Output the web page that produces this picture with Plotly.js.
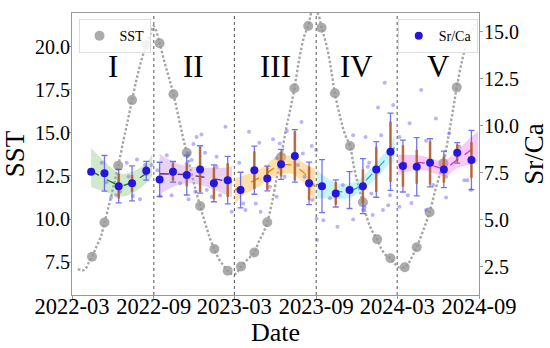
<!DOCTYPE html>
<html><head><meta charset="utf-8">
<script src="https://cdn.plot.ly/plotly-3.0.1.min.js"></script>
<style>body{margin:0;background:#fff}#chart{width:550px;height:348px}</style>
</head><body><div id="chart"></div>
<script>
// ---- SST (left axis) ----
const sstLineDates = ['2022-03-14','2022-03-29','2022-04-08','2022-04-15','2022-04-25','2022-05-05','2022-05-13','2022-05-25','2022-06-05','2022-06-13','2022-06-25','2022-07-05','2022-07-14','2022-07-25','2022-08-05','2022-08-15','2022-08-25','2022-08-31','2022-09-05','2022-09-14','2022-09-25','2022-10-05','2022-10-15','2022-10-25','2022-11-05','2022-11-14','2022-11-25','2022-12-05','2022-12-14','2022-12-25','2023-01-05','2023-01-15','2023-01-25','2023-02-05','2023-02-14','2023-02-25','2023-03-05','2023-03-16','2023-03-28','2023-04-05','2023-04-15','2023-04-25','2023-05-05','2023-05-14','2023-05-25','2023-06-05','2023-06-14','2023-06-25','2023-07-05','2023-07-14','2023-07-25','2023-08-05','2023-08-14','2023-08-25','2023-09-05','2023-09-13','2023-09-25','2023-10-05','2023-10-13','2023-10-25','2023-11-05','2023-11-16','2023-11-25','2023-12-05','2023-12-15','2023-12-25','2024-01-05','2024-01-16','2024-01-25','2024-02-05','2024-02-15','2024-02-25','2024-03-05','2024-03-18','2024-03-28','2024-04-05','2024-04-14','2024-04-25','2024-05-05','2024-05-13','2024-05-25','2024-06-05','2024-06-13','2024-06-25','2024-07-05','2024-07-13','2024-07-25','2024-08-05','2024-08-15','2024-08-25'];
const sstLineVals = [7.1,7.05,7.5,7.82,8.4,9.0,9.8,11.0,12.2,13.1,14.6,15.8,16.9,18.2,19.3,20.1,20.8,21.2,21.0,20.2,19.1,18.2,17.24,16.1,14.8,13.85,12.6,11.6,10.76,9.8,8.9,8.27,7.7,7.3,7.01,6.8,6.85,7.25,7.6,7.8,8.06,8.7,9.2,9.82,11.0,12.5,13.6,15.2,16.4,17.59,19.3,20.6,21.2,22.2,21.9,21.1,20.0,18.6,17.3,15.9,14.9,14.24,13.0,11.9,10.98,10.0,9.3,8.83,8.3,7.9,7.73,7.4,7.2,7.21,7.5,7.9,8.37,9.1,9.8,10.4,11.6,12.6,13.24,14.9,16.4,17.64,19.2,20.3,20.9,21.3];
const sstMonthDates = ['2022-04-15','2022-05-13','2022-06-13','2022-07-14','2022-08-15','2022-09-14','2022-10-15','2022-11-14','2022-12-14','2023-01-15','2023-02-14','2023-03-16','2023-04-15','2023-05-14','2023-06-14','2023-07-14','2023-08-14','2023-09-13','2023-10-13','2023-11-16','2023-12-15','2024-01-16','2024-02-15','2024-03-18','2024-04-14','2024-05-13','2024-06-13','2024-07-13'];
const sstMonthVals = [7.82,9.8,13.1,16.9,20.1,20.2,17.24,13.85,10.76,8.27,7.01,7.25,8.06,9.82,13.6,17.59,21.2,21.1,17.3,14.24,10.98,8.83,7.73,7.21,8.37,10.4,13.24,17.64];

// ---- Sr/Ca (right axis) ----
const srDates = ['2022-04-13','2022-05-13','2022-06-14','2022-07-14','2022-08-15',
 '2022-09-14','2022-10-14','2022-11-14','2022-12-14','2023-01-14','2023-02-14',
 '2023-03-15','2023-04-15','2023-05-14','2023-06-14','2023-07-15','2023-08-16',
 '2023-09-14','2023-10-15','2023-11-15','2023-12-15','2024-01-14','2024-02-15',
 '2024-03-14','2024-04-14','2024-05-14','2024-06-14','2024-07-14','2024-08-15'];
const srMean = [7.55,7.47,6.79,6.94,7.61, 7.15,7.55,7.38,7.68,6.94,7.11, 6.58,7.64,7.2,7.95,8.4,6.94, 6.79,6.4,6.58,6.79,7.68,8.62, 7.86,7.82,8.03,7.68,8.56,8.18];
const srStd  = [0,0.95,0.89,0.93,0.5, 0.91,0.55,1.06,1.26,0.98,1.26, 0.95,1.28,0.66,0.8,1.4,1.13, 1.41,0.72,0.98,1.46,1.48,2.05, 1.38,1.55,1.28,0.97,0.55,1.58];
const srErr2 = [0,0,0.66,0.45,0.27, 0,0.45,0.6,1.2,0.85,0.9, 0,1.0,0.6,0.65,1.3,0.9, 0,0.6,0,0.9,1.2,1.6, 1.1,0.9,1.15,0.7,0.45,0.95];

const rawDates = ['2022-05-07','2022-05-17','2022-05-28','2022-06-08','2022-06-17','2022-07-02','2022-07-06','2022-07-16','2022-07-25','2022-08-01','2022-08-12','2022-08-27',
 '2022-09-09','2022-09-15','2022-09-30','2022-10-11','2022-10-30','2022-11-14','2022-11-18','2022-11-18','2022-11-25','2022-11-29','2022-12-03','2022-12-06','2022-12-17','2022-12-25','2022-12-29','2023-01-09','2023-01-20','2023-01-20','2023-01-28','2023-02-09','2023-02-23',
 '2023-03-12','2023-03-21','2023-03-26','2023-04-03','2023-04-18','2023-04-26','2023-04-29','2023-05-20','2023-05-27','2023-06-04','2023-06-04','2023-06-11','2023-06-22','2023-06-27','2023-07-22','2023-07-30','2023-08-02','2023-08-06','2023-08-22','2023-08-23','2023-09-01',
 '2023-09-02','2023-09-03','2023-09-17','2023-10-02','2023-10-19','2023-10-31','2023-11-23','2023-11-23','2023-12-15','2023-12-19','2023-12-21','2023-12-26','2023-12-29','2024-01-03','2024-01-06','2024-01-18','2024-01-25','2024-01-29','2024-02-02','2024-02-10','2024-02-14','2024-02-21',
 '2024-03-06','2024-03-06','2024-03-25','2024-03-29','2024-04-02','2024-04-24','2024-05-05','2024-05-05','2024-05-21','2024-05-27','2024-06-19','2024-06-19','2024-06-26','2024-07-19','2024-07-30','2024-08-06','2024-08-14'];
const rawVals = [8.03,7.0,6.19,6.31,6.49,8.03,7.3,6.26,8.21,6.09,7.91,7.91,
 7.64,6.26,8.44,6.31,6.94,8.0,6.09,8.53,8.18,9.03,6.49,9.41,9.54,8.56,6.58,6.22,8.35,7.82,6.31,9.95,5.43,
 8.03,5.87,5.52,9.68,5.87,9.1,5.43,6.76,9.28,8.27,6.22,9.06,7.29,9.73,7.91,10.2,8.53,7.29,8.92,6.05,8.71,
 5.07,3.92,4.98,6.14,4.63,6.85,9.5,5.02,5.52,5.66,9.41,7.82,8.03,6.4,5.25,10.97,9.5,5.52,12.29,5.78,6.31,11.1,
 5.69,9.41,6.31,10.13,5.9,11.9,5.52,9.2,6.85,10.39,7.29,6.19,9.6,8.88,7.11,7.11,6.58];

// ---- per-period fits (dashed) and confidence bands ----
const fitDates = [
 ['2022-04-13','2022-05-13','2022-06-14','2022-06-28','2022-07-14','2022-08-15','2022-08-28'],
 ['2022-09-14','2022-10-14','2022-11-14','2022-12-14','2023-01-14','2023-02-14','2023-02-24'],
 ['2023-03-02','2023-03-15','2023-04-16','2023-05-14','2023-06-04','2023-07-08','2023-08-06','2023-08-29'],
 ['2023-09-02','2023-09-14','2023-10-15','2023-10-31','2023-11-30','2024-01-06','2024-02-15','2024-02-24'],
 ['2024-03-03','2024-03-30','2024-04-28','2024-05-28','2024-06-15','2024-07-15','2024-08-14','2024-08-30']];
const fitMid = [
 [7.6,7.2,6.85,6.85,7.0,7.47,7.82],
 [7.45,7.43,7.4,7.3,7.18,7.05,7.0],
 [6.58,6.75,7.11,7.5,7.82,7.91,7.47,6.76],
 [6.9,6.76,6.55,6.49,6.67,7.47,8.53,8.85],
 [7.91,8.03,8.03,7.82,7.73,8.21,8.71,9.0]];
const fitUp = [
 [8.8,8.1,7.5,7.45,7.55,8.0,8.5],
 [8.5,8.1,7.85,7.8,7.75,7.8,7.85],
 [7.2,7.3,7.55,7.95,8.35,8.4,8.0,7.7],
 [7.7,7.4,7.0,6.9,7.05,7.85,9.0,9.6],
 [8.45,8.45,8.4,8.2,8.15,8.7,9.4,9.7]];
const fitLo = [
 [6.75,6.5,6.25,6.25,6.4,6.95,7.3],
 [6.35,6.75,6.95,6.85,6.6,6.3,6.2],
 [5.75,6.2,6.65,7.05,7.35,7.45,6.9,5.9],
 [6.1,6.15,6.1,6.1,6.3,7.05,8.0,8.1],
 [7.4,7.6,7.65,7.45,7.3,7.75,7.95,8.1]];
const fitLineColors = ['#2e6b2e','#6b2a80','#e08a10','#1fb0d0','#c23ac8'];
const fitBandColors = ['rgba(120,190,110,0.35)','rgba(200,140,225,0.4)','rgba(255,185,70,0.45)','rgba(120,225,245,0.4)','rgba(245,120,240,0.4)'];

const periodBounds = ['2022-03-01','2022-09-01','2023-03-01','2023-09-01','2024-03-01','2024-09-01'];
const periodLabels = ['I','II','III','IV','V'];

const FONT = 'Liberation Serif, Times New Roman, serif';
const traces = [];

traces.push({x: sstLineDates, y: sstLineVals, mode:'lines', line:{color:'rgba(150,150,150,0.85)', width:2.4, dash:'2.5px,2px', shape:'spline'}, showlegend:false, hoverinfo:'skip'});
traces.push({x: sstMonthDates, y: sstMonthVals, mode:'markers', name:'SST', marker:{color:'rgba(150,150,150,0.8)', size:10}, legend:'legend'});

for (let i=0;i<5;i++){
  traces.push({x: fitDates[i], y: fitLo[i], yaxis:'y2', mode:'lines', line:{width:0, shape:'spline'}, showlegend:false, hoverinfo:'skip'});
  traces.push({x: fitDates[i], y: fitUp[i], yaxis:'y2', mode:'lines', line:{width:0, shape:'spline'}, fill:'tonexty', fillcolor: fitBandColors[i], showlegend:false, hoverinfo:'skip'});
  traces.push({x: fitDates[i], y: fitMid[i], yaxis:'y2', mode:'lines', line:{color: fitLineColors[i], width:1.3, dash:'dash', shape:'spline'}, showlegend:false});
}
traces.push({x: rawDates, y: rawVals, yaxis:'y2', mode:'markers', marker:{color:'rgba(115,105,240,0.5)', size:4}, showlegend:false});
traces.push({x: srDates, y: srMean, yaxis:'y2', mode:'markers', marker:{color:'rgba(0,0,0,0)', size:1}, error_y:{type:'data', array: srStd, visible:true, color:'rgba(80,80,235,0.8)', thickness:1.3, width:3}, showlegend:false});
traces.push({x: srDates, y: srMean, yaxis:'y2', mode:'markers', marker:{color:'rgba(0,0,0,0)', size:1}, error_y:{type:'data', array: srErr2, visible:true, color:'rgba(185,95,25,0.8)', thickness:2.6, width:0}, showlegend:false});
traces.push({x: srDates, y: srMean, yaxis:'y2', mode:'markers', name:'Sr/Ca', marker:{color:'#2416e0', size:8}, legend:'legend2'});

const shapes = periodBounds.slice(1,5).map(d => ({type:'line', xref:'x', yref:'paper', x0:d, x1:d, y0:0, y1:1, line:{color:'#555', width:1, dash:'dot'}}));
const annotations = periodLabels.map((lab,i) => {
  const a = new Date(periodBounds[i]).getTime(), b = new Date(periodBounds[i+1]).getTime();
  return {x: new Date((a+b)/2).toISOString().slice(0,10), y:0.81, xref:'x', yref:'paper', yanchor:'middle', xanchor:'center', text:lab, showarrow:false, font:{family:FONT, size:31, color:'#000'}};
});
// x-axis title placed as an annotation so it can sit close to the tick labels
annotations.push({x:0.5, y:-0.134, xref:'paper', yref:'paper', xanchor:'center', yanchor:'middle', text:'Date', showarrow:false, font:{family:FONT, size:26, color:'#000'}});

const tickFont = {family:FONT, size:20, color:'#000'};
const layout = {
  width:550, height:348,
  margin:{l:72, r:71, t:13, b:53},
  paper_bgcolor:'#fff', plot_bgcolor:'#fff',
  showlegend:true,
  xaxis:{type:'date', range:['2022-03-01','2024-09-01'], tick0:'2022-03-01', dtick:'M6', tickformat:'%Y-%m',
    showgrid:false, zeroline:false, showline:true, mirror:true, linecolor:'#999', linewidth:1,
    ticks:'outside', ticklen:3, tickcolor:'#999', tickfont:{family:FONT, size:22.5, color:'#000'}, ticklabelstandoff:-12},
  yaxis:{range:[5.6,21.95], tickvals:[7.5,10,12.5,15,17.5,20], tickformat:'.1f', showgrid:false, zeroline:false,
    showline:true, linecolor:'#999', ticks:'outside', ticklen:3, tickcolor:'#999', tickfont:tickFont, ticklabelstandoff:-6,
    title:{text:'SST', font:{family:FONT, size:27, color:'#000'}, standoff:6}},
  yaxis2:{range:[1.0,16.0], overlaying:'y', side:'right', tickvals:[2.5,5,7.5,10,12.5,15], tickformat:'.1f', showgrid:false, zeroline:false,
    showline:true, linecolor:'#999', ticks:'outside', ticklen:3, tickcolor:'#999', tickfont:tickFont, ticklabelstandoff:-3,
    title:{text:'Sr/Ca', font:{family:FONT, size:27, color:'#000'}, standoff:6}},
  legend:{x:0.016, y:0.978, xanchor:'left', yanchor:'top', bgcolor:'rgba(255,255,255,0.85)', bordercolor:'#ddd', borderwidth:1, font:{family:FONT, size:14, color:'#000'}},
  legend2:{x:0.997, y:0.978, xanchor:'right', yanchor:'top', bgcolor:'rgba(255,255,255,0.85)', bordercolor:'#ddd', borderwidth:1, font:{family:FONT, size:14, color:'#000'}},
  shapes: shapes,
  annotations: annotations
};
Plotly.newPlot('chart', traces, layout, {displayModeBar:false, staticPlot:true});
</script></body></html>
